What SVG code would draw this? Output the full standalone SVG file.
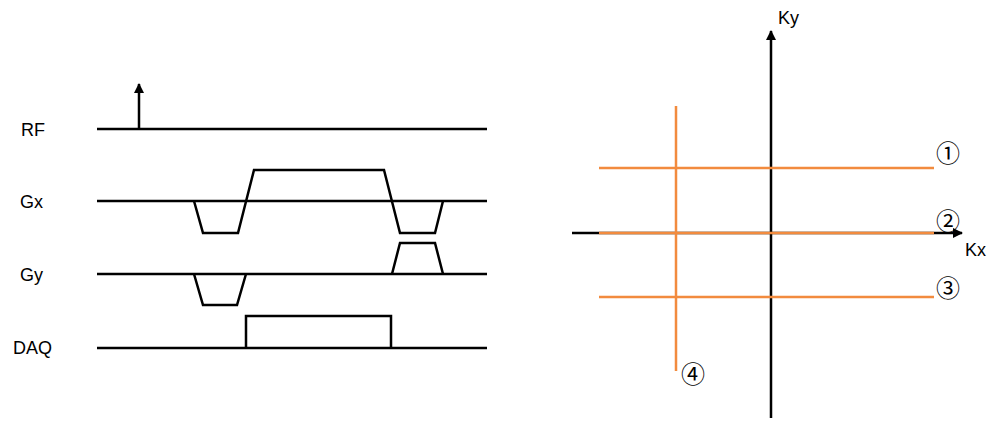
<svg xmlns="http://www.w3.org/2000/svg" width="1000" height="421" viewBox="0 0 1000 421">
<defs>
<marker id="ah" viewBox="0 0 10 10" refX="9" refY="5" markerWidth="4" markerHeight="4" orient="auto" markerUnits="strokeWidth">
<path d="M0,0 L10,5 L0,10 z" fill="#000"/>
</marker>
<style>
.lbl{font-family:"Liberation Sans",Arial,sans-serif;font-size:18px;fill:#000}
.ln{stroke:#000;stroke-width:2.5;fill:none;stroke-linejoin:miter}
.or{stroke:#F28B3E;stroke-width:2.5;fill:none}
.num{font-family:"Noto Sans CJK SC","DejaVu Sans",sans-serif;font-size:24px;fill:#000;text-anchor:middle;dominant-baseline:central}
</style>
</defs>
<rect width="1000" height="421" fill="#fff"/>
<g id="rf">
<text class="lbl" x="21" y="136">RF</text>
<line class="ln" x1="97" y1="129" x2="487" y2="129"/>
<line class="ln" x1="139" y1="129" x2="139" y2="84" marker-end="url(#ah)"/>
</g>
<g id="gx">
<text class="lbl" x="20" y="208">Gx</text>
<line class="ln" x1="97" y1="201" x2="487" y2="201"/>
<polyline class="ln" points="194,201 203,233 238,233 254,170 384,170 400,233 435,233 443,201"/>
</g>
<g id="gy">
<text class="lbl" x="20" y="281">Gy</text>
<line class="ln" x1="97" y1="274" x2="487" y2="274"/>
<polyline class="ln" points="194,274 203,305 237,305 246,274"/>
<polyline class="ln" points="392,274 400,243 435,243 443,274"/>
</g>
<g id="daq">
<text class="lbl" x="13" y="354">DAQ</text>
<line class="ln" x1="97" y1="348" x2="487" y2="348"/>
<polyline class="ln" points="246,348 246,316 391,316 391,348"/>
</g>
<g id="connectors">
<line class="ln" x1="572" y1="233" x2="962" y2="233" marker-end="url(#ah)"/>
<line class="ln" x1="771" y1="418" x2="771" y2="31" marker-end="url(#ah)"/>
<line class="or" x1="599" y1="168" x2="934" y2="168"/>
<line class="or" x1="599" y1="233" x2="934" y2="233"/>
<line class="or" x1="599" y1="297" x2="934" y2="297"/>
<line class="or" x1="676" y1="106" x2="676" y2="371"/>
</g>
<g id="axis-labels">
<text class="lbl" x="778" y="24">Ky</text>
<text class="lbl" x="965" y="256">Kx</text>
</g>
<g id="numbers">
<text class="num" x="948" y="151">①</text>
<text class="num" x="948" y="219">②</text>
<text class="num" x="948" y="286">③</text>
<text class="num" x="693" y="372">④</text>
</g>
</svg>
